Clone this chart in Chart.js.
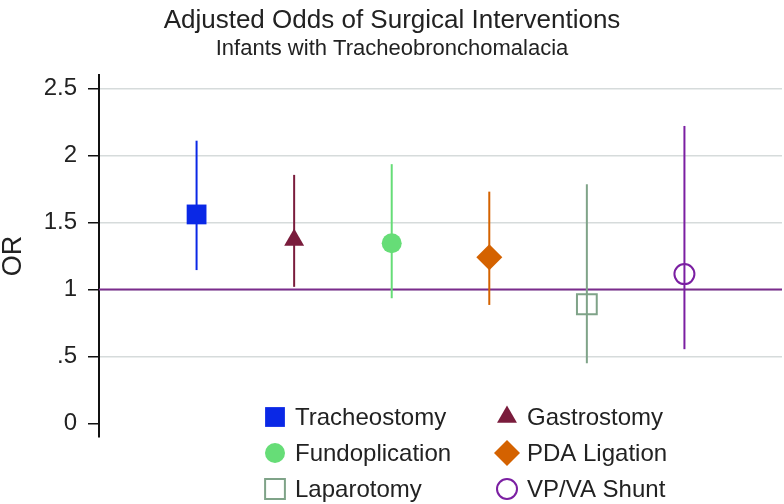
<!DOCTYPE html>
<html>
<head>
<meta charset="utf-8">
<script src="https://cdn.jsdelivr.net/npm/chart.js@4/dist/chart.umd.min.js"></script>
<style>
  html, body { margin: 0; padding: 0; background: #fff; overflow: hidden; }
  #wrap { width: 784px; height: 504px; }
  canvas { display: block; }
</style>
</head>
<body>
<div id="wrap"><canvas id="orChart" width="784" height="504"></canvas></div>
<script>
// values
const categories = ['Tracheostomy', 'Gastrostomy', 'Fundoplication', 'PDA Ligation', 'Laparotomy', 'VP/VA Shunt'];
const orValues = [1.56, 1.37, 1.345, 1.24, 0.89, 1.115];
const ciLower = [1.145, 1.02, 0.935, 0.885, 0.45, 0.555];
const ciUpper = [2.11, 1.855, 1.935, 1.73, 1.785, 2.22];
const yTicks = [0, 0.5, 1, 1.5, 2, 2.5];
const yTickLabels = ['0', '.5', '1', '1.5', '2', '2.5'];
const refValue = 1;

const colors = ['#0A28E6', '#7A1C3C', '#66DD77', '#D46200', '#7FA388', '#7B1FA2'];
const markerStyles = ['rect', 'triangle', 'circle', 'rectRot', 'rect', 'circle'];
const markerRadius = [14, 11.5, 10, 13, 14, 10];
const hollow = [false, false, false, false, true, true];
const FONT = '"Liberation Sans", Arial, Helvetica, sans-serif';

const markerSets = categories.map((name, i) => ({
    label: name,
    data: [{ x: i + 1, y: orValues[i] }],
    showLine: false,
    pointStyle: markerStyles[i],
    pointRadius: markerRadius[i],
    pointBackgroundColor: hollow[i] ? 'rgba(0,0,0,0)' : colors[i],
    pointBorderColor: colors[i],
    pointBorderWidth: hollow[i] ? 2 : 0
}));

const ciSets = categories.map((name, i) => ({
    label: name + ' CI',
    data: [{ x: i + 1, y: ciLower[i] }, { x: i + 1, y: ciUpper[i] }],
    showLine: true,
    borderColor: colors[i],
    borderWidth: 2,
    pointRadius: 0
}));

const refSet = {
    label: 'OR = 1',
    data: [{ x: 0, y: refValue }, { x: 7, y: refValue }],
    showLine: true,
    borderColor: '#7B2C8C',
    borderWidth: 2,
    pointRadius: 0
};

// titles drawn on top of the canvas
const titlePlugin = {
    id: 'titles',
    afterDraw(chart) {
        const ctx = chart.ctx;
        ctx.save();
        ctx.fillStyle = '#222';
        ctx.textAlign = 'center';
        ctx.textBaseline = 'alphabetic';
        ctx.font = '26px ' + FONT;
        ctx.fillText('Adjusted Odds of Surgical Interventions', 392, 28);
        ctx.font = '22px ' + FONT;
        ctx.fillText('Infants with Tracheobronchomalacia', 392, 55);
        ctx.restore();
    }
};

// two-column legend sitting over the bottom of the plot
const legendPlugin = {
    id: 'orLegend',
    afterDraw(chart) {
        const ctx = chart.ctx;
        const colX = [275, 507];
        const rowY = [417, 453, 489];
        ctx.save();
        ctx.font = '24px ' + FONT;
        ctx.textBaseline = 'middle';
        ctx.textAlign = 'left';
        categories.forEach((name, i) => {
            const x = colX[i % 2];
            const y = rowY[Math.floor(i / 2)];
            ctx.fillStyle = hollow[i] ? 'rgba(0,0,0,0)' : colors[i];
            ctx.strokeStyle = colors[i];
            ctx.lineWidth = hollow[i] ? 2 : 0;
            Chart.helpers.drawPoint(ctx, {
                pointStyle: markerStyles[i],
                radius: markerRadius[i],
                rotation: 0,
                borderWidth: hollow[i] ? 2 : 0
            }, x, y);
            ctx.fillStyle = '#222';
            ctx.fillText(name, x + 20, y + 1);
        });
        ctx.restore();
    }
};

new Chart(document.getElementById('orChart').getContext('2d'), {
    type: 'scatter',
    data: { datasets: [...markerSets, ...ciSets, refSet] },
    options: {
        responsive: false,
        animation: false,
        layout: { autoPadding: false, padding: { top: 75, bottom: 67, left: 0, right: 2 } },
        plugins: {
            legend: { display: false },
            tooltip: { enabled: false }
        },
        scales: {
            x: {
                type: 'linear',
                min: 0,
                max: 7,
                display: false
            },
            y: {
                type: 'linear',
                min: -0.1,
                max: 2.6,
                afterFit(scale) { scale.width = 99; },
                afterBuildTicks(scale) {
                    scale.ticks = yTicks.map(v => ({ value: v }));
                },
                ticks: {
                    color: '#222',
                    padding: 11,
                    font: { family: FONT, size: 24 },
                    callback: (v) => yTickLabels[yTicks.indexOf(v)]
                },
                grid: {
                    color: (c) => (c.tick && c.tick.value === 0) ? 'rgba(0,0,0,0)' : '#D6DBDB',
                    lineWidth: 1.5,
                    tickColor: '#111',
                    tickLength: 11,
                    tickWidth: 1.5
                },
                border: { display: true, color: '#111', width: 2 },
                title: {
                    display: true,
                    text: 'OR',
                    color: '#222',
                    font: { family: FONT, size: 27, lineHeight: 1.0 },
                    padding: 0
                }
            }
        }
    },
    plugins: [titlePlugin, legendPlugin]
});
</script>
</body>
</html>
